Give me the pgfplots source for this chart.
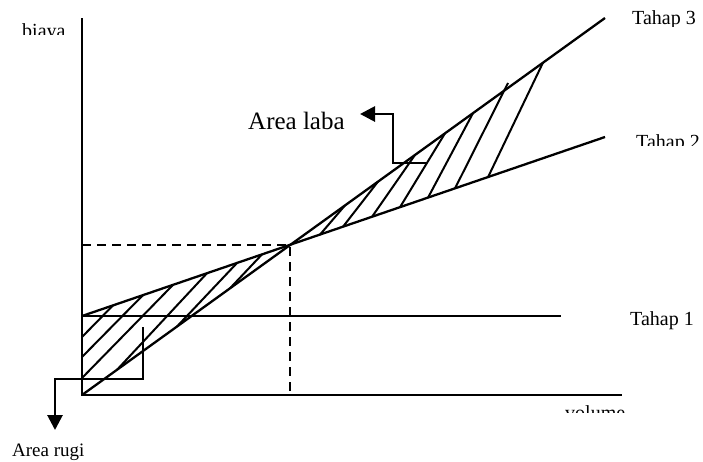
\documentclass[border=0pt]{standalone}
\usepackage{fontspec}
\setmainfont{Liberation Serif}
\usepackage{pgfplots}
\pgfplotsset{compat=1.18}
\usetikzlibrary{arrows.meta}

\begin{document}
\begin{tikzpicture}
\path[use as bounding box] (0,0) rectangle (703pt,461pt);
\begin{axis}[at={(0,0)},anchor=south west,
  width=703pt,height=461pt,scale only axis,
  xmin=0,xmax=703,ymin=0,ymax=461,y dir=reverse,
  hide axis,clip=false,
  every axis plot/.append style={black,no markers}]
% axes
\addplot[line width=2.7pt] coordinates {(82,18) (82,395) (622,395)};
% Tahap 1, 2, 3
\addplot[line width=2.3pt] coordinates {(82,316) (561,316)};
\addplot[line width=2.3pt] coordinates {(82,316) (605,137)};
\addplot[line width=2.3pt] coordinates {(82,395) (605,18)};
% break-even guides
\addplot[line width=2.6pt,dash pattern=on 9pt off 6pt] coordinates {(82,245) (290,245) (290,395)};
% hatching, loss area
\addplot[line width=2pt] coordinates {(82,337) (113,305.4)};
\addplot[line width=2pt] coordinates {(82,357) (143,295.1)};
\addplot[line width=2pt] coordinates {(82,378) (173,284.9)};
\addplot[line width=2pt] coordinates {(117,369.8) (207,273.2)};
\addplot[line width=2pt] coordinates {(177,326.5) (237,263)};
\addplot[line width=2pt] coordinates {(230,288.3) (262,254.4)};
% hatching, profit area
\addplot[line width=2pt] coordinates {(320,234.6) (345,205.4)};
\addplot[line width=2pt] coordinates {(343,226.7) (378,181.6)};
\addplot[line width=2pt] coordinates {(372,216.8) (415,154.9)};
\addplot[line width=2pt] coordinates {(400,207.2) (445,133.3)};
\addplot[line width=2pt] coordinates {(428,197.7) (473,113.1)};
\addplot[line width=2pt] coordinates {(455,188.4) (508,83)};
\addplot[line width=2pt] coordinates {(488,177.2) (543,62.6)};
% pointer arrows
\addplot[line width=2.8pt,-{Triangle[length=15pt,width=15pt]}] coordinates {(427,163) (393,163) (393,114) (360,114)};
\addplot[line width=2.8pt,-{Triangle[length=15pt,width=15pt]}] coordinates {(143,327) (143,379) (55,379) (55,430)};
\end{axis}

\begin{scope}[x=1pt,y=-1pt,shift={(0pt,461pt)},
  every node/.style={anchor=base west,inner sep=0pt,font=\fontsize{20}{24}\selectfont}]
\begin{scope}
  \clip (0,0) rectangle (82,35);
  \node at (22,38) {biaya};
\end{scope}
\begin{scope}
  \clip (600,0) rectangle (703,27);
  \node at (632,25) {Tahap 3};
\end{scope}
\begin{scope}
  \clip (600,120) rectangle (701,146);
  \node at (636,149) {Tahap 2};
\end{scope}
\node at (630,325) {Tahap 1};
\begin{scope}
  \clip (540,398) rectangle (650,412);
  \node at (565,419) {volume};
\end{scope}
\node[font=\fontsize{25}{30}\selectfont] at (248,130) {Area laba};
\node[font=\fontsize{19}{23}\selectfont] at (12,456) {Area rugi};
\end{scope}
\end{tikzpicture}
\end{document}
